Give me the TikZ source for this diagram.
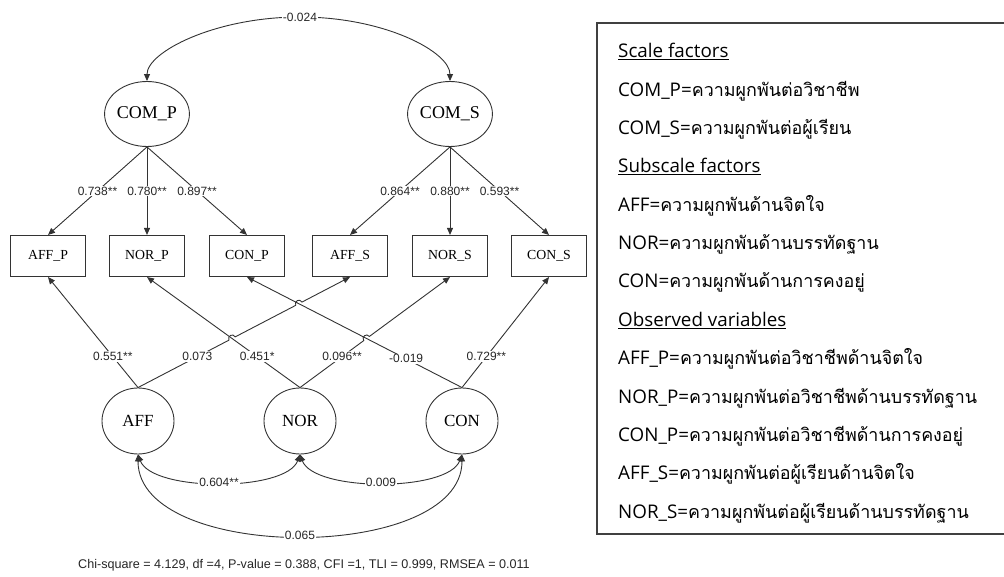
\documentclass[tikz,border=0pt]{standalone}
\usepackage{fontspec}
\setmainfont{Liberation Serif}
\newfontfamily\coeffont{Liberation Sans}
\newfontfamily\leglat{Open Sans}
\newfontfamily\legthai[Script=Thai]{Loma}
\usetikzlibrary{arrows.meta,shapes.geometric,calc}

\newcommand{\lt}[2]{{\leglat\fontsize{18.8}{19}\selectfont #1}{\legthai\fontsize{17.9}{19}\selectfont #2}}
\newcommand{\lh}[1]{{\leglat\fontsize{18.8}{19}\selectfont\underline{#1}}}

\begin{document}
\begin{tikzpicture}[x=1pt,y=1pt,
  line/.style={draw=black!80, line width=0.9pt},
  latent/.style={ellipse, draw=black!80, line width=0.9pt, minimum width=75pt, minimum height=65pt, inner sep=0pt, font=\fontsize{18}{18}\selectfont},
  factor/.style={latent, minimum width=72pt, minimum height=66pt, font=\fontsize{17}{17}\selectfont},
  obs/.style={rectangle, draw=black!80, line width=1.1pt, minimum width=75pt, minimum height=41pt, inner sep=0pt, font=\fontsize{13.8}{13.8}\selectfont},
  tip/.tip={Triangle[length=7pt,width=6pt]},
  arr/.style={line, -tip},
  cov/.style={line, tip-tip},
  hop/.style={bend left=90, looseness=1.7},
  coef/.style={fill=white, inner sep=1pt, font=\coeffont\fontsize{12}{12}\selectfont, text=black!85},
  leg/.style={anchor=base west, inner sep=0pt},
]
\useasboundingbox (0,0) rectangle (1004,-577);

% scale factors
\node[latent] (COMP) at (147,-114) {COM\_P};
\node[latent] (COMS) at (450,-114) {COM\_S};

% observed variables
\node[obs] (AFFP) at (48,-256)  {AFF\_P};
\node[obs] (NORP) at (147,-256) {NOR\_P};
\node[obs] (CONP) at (247,-256) {CON\_P};
\node[obs] (AFFS) at (350,-256) {AFF\_S};
\node[obs] (NORS) at (450,-256) {NOR\_S};
\node[obs] (CONS) at (549,-256) {CON\_S};

% subscale factors
\node[factor] (AFF) at (138,-421) {AFF};
\node[factor] (NOR) at (300,-421) {NOR};
\node[factor] (CON) at (462,-421) {CON};

% covariance between the scale factors
\coordinate (ctop) at (300,-17);
\draw[cov] (COMP.north) .. controls (147,-52) and (215,-17) .. (ctop)
  .. controls (385,-17) and (450,-52) .. (COMS.north);
\node[coef] (l0) at (ctop) {-0.024};

% loadings of the scale factors
\draw[arr] (COMP.south) -- (AFFP.north) node[coef,pos=.5] (l1) {0.738**};
\draw[arr] (COMP.south) -- (NORP.north) node[coef,pos=.5] (l2) {0.780**};
\draw[arr] (COMP.south) -- (CONP.north) node[coef,pos=.5] (l3) {0.897**};
\draw[arr] (COMS.south) -- (AFFS.north) node[coef,pos=.5] (l4) {0.864**};
\draw[arr] (COMS.south) -- (NORS.north) node[coef,pos=.5] (l5) {0.880**};
\draw[arr] (COMS.south) -- (CONS.north) node[coef,pos=.5] (l6) {0.593**};

% loadings of the subscale factors (rising lines hop over falling ones)
\draw[arr] (AFF.north) -- (AFFP.south);
\draw[arr] (NOR.north) -- (NORP.south);
\draw[arr] (CON.north) -- (CONP.south);
\draw[arr] (CON.north) -- (CONS.south);
\draw[arr] (AFF.north) -- ($(AFF.north)!0.4292!(AFFS.south)$)
  to[hop] ($(AFF.north)!0.4584!(AFFS.south)$)
  -- ($(AFF.north)!0.7442!(AFFS.south)$)
  to[hop] ($(AFF.north)!0.7734!(AFFS.south)$)
  -- (AFFS.south);
\draw[arr] (NOR.north) -- ($(NOR.north)!0.4250!(NORS.south)$)
  to[hop] ($(NOR.north)!0.4626!(NORS.south)$)
  -- (NORS.south);

\path (AFF.north) -- (AFFP.south) node[coef,pos=.28] (l7) {0.551**};
\path (AFF.north) -- (AFFS.south) node[coef,pos=.28] (l8) {0.073};
\path (NOR.north) -- (NORP.south) node[coef,pos=.28] (l9) {0.451*};
\path (NOR.north) -- (NORS.south) node[coef,pos=.28] (l10) {0.096**};
\path (CON.north) -- (CONP.south) node[coef,pos=.26] (l11) {-0.019};
\path (CON.north) -- (CONS.south) node[coef,pos=.28] (l12) {0.729**};

% covariances among the subscale factors
\draw[cov] (AFF.south) .. controls (152,-492) and (286,-492) .. (NOR.south)
  node[coef,pos=.5] (l13) {0.604**};
\draw[cov] (NOR.south) .. controls (314,-492) and (448,-492) .. (CON.south)
  node[coef,pos=.5] (l14) {0.009};
\draw[cov] (AFF.south) .. controls (138,-563) and (462,-563) .. (CON.south)
  node[coef,pos=.5] (l15) {0.065};

% fit indices
\node[font=\coeffont\fontsize{12.6}{12.6}\selectfont, text=black!85] (fit) at (304,-565)
  {Chi-square = 4.129, df =4, P-value = 0.388, CFI =1, TLI = 0.999, RMSEA = 0.011};

% legend frame: open on the right, where it runs off the page
\coordinate (fr1) at (1004,-23);
\coordinate (fr2) at (1004,-534);
\draw[draw=black!75, line width=1.2pt, line join=miter] (fr1) -- (597,-23) -- (597,-534) -- (fr2);
\node[leg] (g1)  at (618,-58)    {\lh{Scale factors}};
\node[leg] (g2)  at (618,-96.3)  {\lt{COM\_P=}{ความผูกพันต่อวิชาชีพ}};
\node[leg] (g3)  at (618,-134.7) {\lt{COM\_S=}{ความผูกพันต่อผู้เรียน}};
\node[leg] (g4)  at (618,-173)   {\lh{Subscale factors}};
\node[leg] (g5)  at (618,-211.3) {\lt{AFF=}{ความผูกพันด้านจิตใจ}};
\node[leg] (g6)  at (618,-249.7) {\lt{NOR=}{ความผูกพันด้านบรรทัดฐาน}};
\node[leg] (g7)  at (618,-288)   {\lt{CON=}{ความผูกพันด้านการคงอยู่}};
\node[leg] (g8)  at (618,-326.3) {\lh{Observed variables}};
\node[leg] (g9)  at (618,-364.7) {\lt{AFF\_P=}{ความผูกพันต่อวิชาชีพด้านจิตใจ}};
\node[leg] (g10) at (618,-403)   {\lt{NOR\_P=}{ความผูกพันต่อวิชาชีพด้านบรรทัดฐาน}};
\node[leg] (g11) at (618,-441.3) {\lt{CON\_P=}{ความผูกพันต่อวิชาชีพด้านการคงอยู่}};
\node[leg] (g12) at (618,-479.7) {\lt{AFF\_S=}{ความผูกพันต่อผู้เรียนด้านจิตใจ}};
\node[leg] (g13) at (618,-518)   {\lt{NOR\_S=}{ความผูกพันต่อผู้เรียนด้านบรรทัดฐาน}};
\end{tikzpicture}
\end{document}
